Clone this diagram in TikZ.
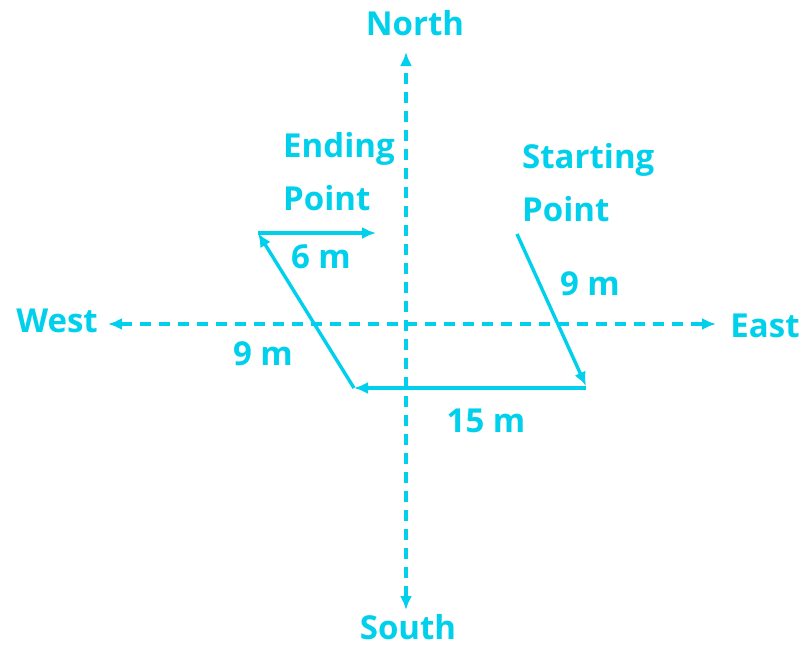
\documentclass[tikz,border=0pt]{standalone}
\usepackage{fontspec}
\setmainfont{Open Sans}
\usetikzlibrary{arrows.meta}
\definecolor{dircyan}{RGB}{0,208,235}

\begin{document}
\begin{tikzpicture}[x=1pt, y=-1pt, >={Latex[length=14pt,width=12pt]},
    path/.style={draw=dircyan, line width=3.4pt},
    axis/.style={draw=dircyan, line width=3.2pt, dash pattern=on 11pt off 8pt},
    lbl/.style={text=dircyan, font=\bfseries\fontsize{33}{53}\selectfont, inner sep=0pt}]
    \useasboundingbox (0,0) rectangle (803,648);

    \coordinate (N) at (406,52);
    \coordinate (Sth) at (406,610);
    \coordinate (W) at (108,324);
    \coordinate (Est) at (716,324);

    \draw[axis, <->] (Sth) -- (N);
    \draw[axis, <->] (W) -- (Est);

    \coordinate (S) at (517,234);
    \coordinate (A) at (586,386);
    \coordinate (B) at (354,388);
    \coordinate (C) at (258,233);
    \coordinate (E) at (376,233);

    \draw[path, ->] (S) -- (A);
    \draw[path, ->] (A |- B) -- (B);
    \draw[path, ->] (B) -- (C);
    \draw[path, ->] (C) -- (E);

    \node[lbl, anchor=base] (north) at (415,35) {North};
    \node[lbl, anchor=base] (south) at (408,639) {South};
    \node[lbl, anchor=base] (west) at (57,332) {West};
    \node[lbl, anchor=base] (east) at (765,337) {East};

    \node[lbl, anchor=west, align=left] (ending) at (283,172) {Ending\\Point};
    \node[lbl, anchor=west, align=left] (starting) at (522,183) {Starting\\Point};

    \node[lbl, anchor=base] (six) at (321,268) {6 m};
    \node[lbl, anchor=base] (nineR) at (590,295) {9 m};
    \node[lbl, anchor=base] (nineL) at (263,365) {9 m};
    \node[lbl, anchor=base] (fifteen) at (486,432) {15 m};
  \end{tikzpicture}
\end{document}
